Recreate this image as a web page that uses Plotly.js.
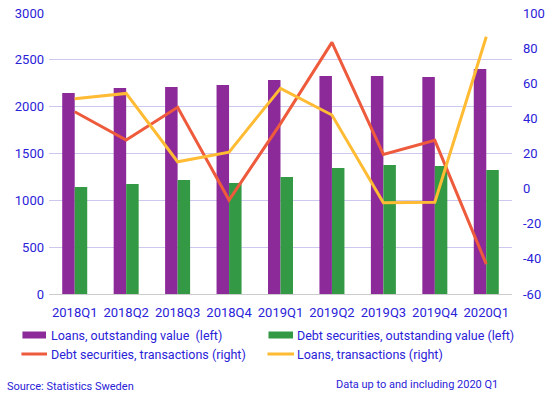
<!DOCTYPE html>
<html>
<head>
<meta charset="utf-8">
<script src="https://cdn.plot.ly/plotly-3.0.1.min.js"></script>
<style>html,body{margin:0;padding:0;background:#fff;}#chart{width:553px;height:397px;}</style>
</head>
<body>
<div id="chart"></div>
<script>
const quarters = ["2018Q1","2018Q2","2018Q3","2018Q4","2019Q1","2019Q2","2019Q3","2019Q4","2020Q1"];
const loansOutstanding = [2146, 2199, 2210, 2231, 2285, 2327, 2327, 2317, 2402];
const debtOutstanding = [1142, 1174, 1217, 1185, 1249, 1345, 1377, 1366, 1324];
const debtTransactions = [43.8, 27.7, 46.3, -6.5, 37, 83.3, 19.5, 27.5, -43];
const loansTransactions = [51.2, 54.2, 15.3, 20.8, 57.1, 41.9, -8, -7.8, 86.5];
const seriesNames = ["Loans, outstanding value  (left)", "Debt securities, outstanding value (left)",
                     "Debt securities, transactions (right)", "Loans, transactions (right)"];
const seriesColors = ["#8c2a99", "#339944", "#ee5a3c", "#ffbb33"];
const leftTicks = [0, 500, 1000, 1500, 2000, 2500, 3000];
const rightTicks = [-60, -40, -20, 0, 20, 40, 60, 80, 100];

const blue = "#2a22d8";
const fontFam = "Roboto, 'Liberation Sans', Arial, sans-serif";

const traces = [
  {type:"bar", x:quarters, y:loansOutstanding, name:seriesNames[0], marker:{color:seriesColors[0]}, yaxis:"y"},
  {type:"bar", x:quarters, y:debtOutstanding, name:seriesNames[1], marker:{color:seriesColors[1]}, yaxis:"y"},
  {type:"scatter", mode:"lines", x:quarters, y:debtTransactions, name:seriesNames[2], line:{color:seriesColors[2], width:3}, yaxis:"y2"},
  {type:"scatter", mode:"lines", x:quarters, y:loansTransactions, name:seriesNames[3], line:{color:seriesColors[3], width:3}, yaxis:"y2"}
];

// legend drawn manually (paper coordinates)
const L = 49, W = 462, T = 13, H = 281;
const px = v => (v - L) / W;
const py = v => (T + H - v) / H;
const legendRows = [335, 354];
const legendCols = [{s0:22.5, s1:46, t:49.5}, {s0:268, s1:292.5, t:295}];
const legendSpec = [
  {kind:"bar", row:0, col:0}, {kind:"bar", row:0, col:1},
  {kind:"line", row:1, col:0}, {kind:"line", row:1, col:1}
];
const shapes = [];
const annotations = [];
legendSpec.forEach((s, i) => {
  const c = legendCols[s.col], yc = legendRows[s.row];
  if (s.kind === "bar") {
    shapes.push({type:"rect", xref:"paper", yref:"paper", x0:px(c.s0), x1:px(c.s1),
                 y0:py(yc - 3.5), y1:py(yc + 3.5), fillcolor:seriesColors[i], line:{width:0}});
  } else {
    shapes.push({type:"line", xref:"paper", yref:"paper", x0:px(c.s0 - 1), x1:px(c.s1 + 1),
                 y0:py(yc), y1:py(yc), line:{color:seriesColors[i], width:3}});
  }
  annotations.push({xref:"paper", yref:"paper", x:px(c.t), y:py(yc), xanchor:"left", yanchor:"middle",
                    text:seriesNames[i], showarrow:false, font:{size:12.5, color:blue}, borderpad:0});
});
annotations.push({xref:"paper", yref:"paper", x:px(6), y:py(386), xanchor:"left", yanchor:"middle",
     text:"Source: Statistics Sweden", showarrow:false, font:{size:11, color:blue}, borderpad:0});
annotations.push({xref:"paper", yref:"paper", x:px(498), y:py(384), xanchor:"right", yanchor:"middle",
     text:"Data up to and including 2020 Q1", showarrow:false, font:{size:11, color:blue}, borderpad:0});

const layout = {
  width:553, height:397,
  margin:{l:49, r:41, t:13, b:103},
  paper_bgcolor:"#fff", plot_bgcolor:"#fff",
  font:{family:fontFam, color:blue, size:12},
  barmode:"group", bargap:0.514, bargroupgap:0,
  showlegend:false,
  xaxis:{type:"category", showgrid:false, showline:true, linecolor:"#cccccc", linewidth:1,
         ticks:"", tickfont:{size:13, color:blue}, ticklabelstandoff:6},
  yaxis:{range:[0,3000], tickvals:leftTicks, ticktext:leftTicks.map(String), showgrid:true,
         gridcolor:"#ccc8ee", gridwidth:1, zeroline:false, ticks:"", tickfont:{size:13, color:blue},
         ticklabelstandoff:4},
  yaxis2:{range:[-60,100], tickvals:rightTicks, ticktext:rightTicks.map(String), overlaying:"y",
          side:"right", showgrid:false, zeroline:false, ticks:"", tickfont:{size:13, color:blue},
          ticklabelstandoff:10},
  shapes:shapes,
  annotations:annotations
};

Plotly.newPlot("chart", traces, layout, {displayModeBar:false, staticPlot:true});
</script>
</body>
</html>
